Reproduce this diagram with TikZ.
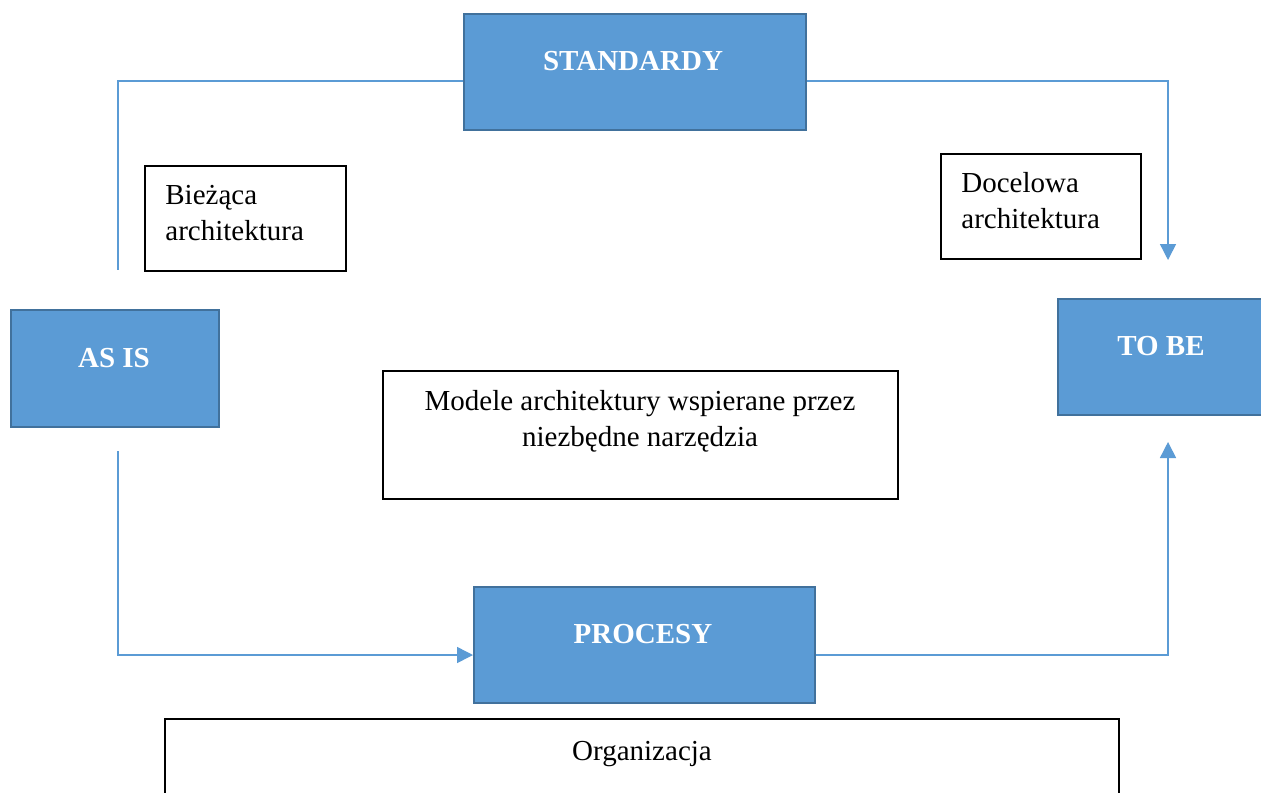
\documentclass[tikz,border=0pt]{standalone}
\usepackage{fontspec}
\setmainfont{Liberation Serif}
\usetikzlibrary{arrows.meta}
\definecolor{boxblue}{HTML}{5B9BD5}
\definecolor{boxedge}{HTML}{41719C}
\definecolor{linkblue}{HTML}{5B9BD5}
\tikzset{
  bluebox/.style={draw=boxedge, line width=1.2pt, fill=boxblue, rectangle, anchor=north west, inner sep=0pt},
  plainbox/.style={draw=black, line width=1pt, fill=white, rectangle, anchor=north west, inner sep=0pt},
  bluetext/.style={text=white, font=\fontsize{14.5}{18}\selectfont\bfseries, inner sep=0pt, anchor=base},
  bodytext/.style={text=black, font=\fontsize{14.5}{18}\selectfont, inner sep=0pt},
  conn/.style={draw=linkblue, line width=0.75pt},
  tip/.style={-{Triangle[width=8pt,length=8pt]}}
}
\begin{document}
\begin{tikzpicture}[x=0.5pt, y=-0.5pt]
\useasboundingbox (0,0) rectangle (1261,792);
\clip (0,0) rectangle (1261,792);
\fill[white] (0,0) rectangle (1261,792);

% helper levels for the connector runs
\coordinate (topy) at (0,81);
\coordinate (boty) at (0,655);
\coordinate (asup) at (118,270);
\coordinate (asdown) at (118,451);
\coordinate (tbdown) at (1168,260);
\coordinate (tbup) at (1168,442);

% blue process boxes
\node[bluebox, minimum width=171pt, minimum height=58pt] (std) at (463,13) {};
\node[bluebox, minimum width=104pt, minimum height=58.5pt] (asis) at (10,309) {};
\node[bluebox, minimum width=104pt, minimum height=58pt] (tobe) at (1057,298) {};
\node[bluebox, minimum width=170.5pt, minimum height=58pt] (proc) at (473,586) {};

% connectors
\draw[conn] (std.west |- topy) -| (asup);
\draw[conn, tip] (std.east |- topy) -| (tbdown);
\draw[conn, tip] (asdown) |- (proc.west |- boty);
\draw[conn, tip] (proc.east |- boty) -| (tbup);

% box titles
\node[bluetext] (stdt) at (633,70) {STANDARDY};
\node[bluetext] (asist) at (114,367) {AS IS};
\node[bluetext] (tobet) at (1161,355) {TO BE};
\node[bluetext] (proct) at (643,643) {PROCESY};

% white annotation boxes
\node[plainbox, minimum width=100.5pt, minimum height=52.5pt] (cur) at (144,165) {};
\node[plainbox, minimum width=100pt, minimum height=52.5pt] (tgt) at (940,153) {};
\node[plainbox, minimum width=257.5pt, minimum height=64pt] (mod) at (382,370) {};
\node[plainbox, minimum width=477pt, minimum height=45pt] (org) at (164,718) {};

% multi-line texts are placed by the baseline of their last line
\node[bodytext, anchor=base west, align=left] (curt) at (165,240) {Bieżąca\\architektura};
\node[bodytext, anchor=base west, align=left] (tgtt) at (961,228) {Docelowa\\architektura};
\node[bodytext, anchor=base, align=center] (modt) at (640,446) {Modele architektury wspierane przez\\niezbędne narzędzia};
\node[bodytext, anchor=base] (orgt) at (642,760) {Organizacja};
\end{tikzpicture}
\end{document}
